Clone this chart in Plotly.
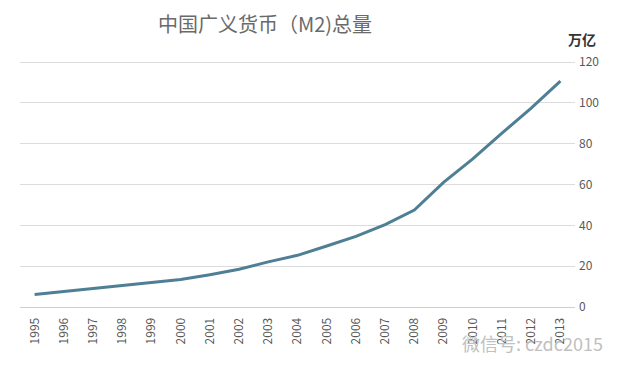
import plotly.graph_objects as go

years = [str(y) for y in range(1995, 2014)]
m2 = [6.07, 7.61, 9.10, 10.45, 11.99, 13.46, 15.83, 18.50, 22.12, 25.32,
      29.88, 34.56, 40.34, 47.52, 61.02, 72.58, 85.16, 97.41, 110.65]
y_ticks = [0, 20, 40, 60, 80, 100, 120]

fig = go.Figure()
fig.add_trace(go.Scatter(x=years, y=m2, mode="lines",
                         line=dict(color="#4f7f95", width=3)))

font_cjk = "Noto Sans CJK SC, Noto Sans, sans-serif"
fig.update_layout(
    width=623, height=375,
    margin=dict(l=12, r=56, t=53, b=76),
    paper_bgcolor="white", plot_bgcolor="white",
    showlegend=False,
    font=dict(family=font_cjk, color="#595959"),
    xaxis=dict(type="category", range=[-0.5, 18.5], tickangle=-90,
               showgrid=False, showline=True, linecolor="#cfcfcf", linewidth=1,
               ticks="", ticklabelstandoff=5,
               tickfont=dict(size=12, color="#595959")),
    yaxis=dict(side="right", range=[0, 120.5], tickvals=y_ticks,
               showgrid=True, gridcolor="#dcdcdc", gridwidth=1,
               zeroline=False, showline=False, ticks="", ticklabelstandoff=3,
               tickfont=dict(size=12, color="#595959")),
    annotations=[
        dict(text="中国广义货币（M2)总量", x=0.441, y=1.0, xref="paper", yref="paper",
             yshift=21, xanchor="center", yanchor="bottom", showarrow=False,
             font=dict(size=20, color="#6a6a6a", family=font_cjk)),
        dict(text="<b>万亿</b>", x=1.0, y=1.0, xref="paper", yref="paper",
             xshift=-9, yshift=10, xanchor="left", yanchor="bottom", showarrow=False,
             font=dict(size=14, color="#333333", family=font_cjk)),
        dict(text="微信号: czdc2015", x=1.0, y=0, xref="paper", yref="paper",
             xshift=30, yshift=-36, xanchor="right", yanchor="middle", showarrow=False,
             font=dict(size=18, color="#c0c0c0", family=font_cjk)),
    ],
)
fig.write_html("out.html")
